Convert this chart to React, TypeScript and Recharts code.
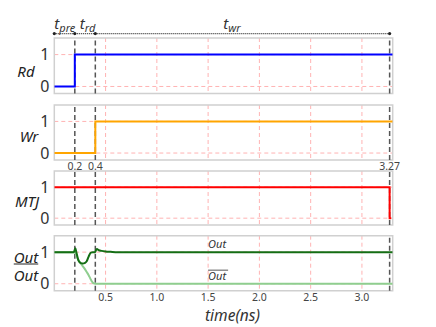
import React from "react";
import {
  LineChart,
  Line,
  XAxis,
  YAxis,
  CartesianGrid,
  ReferenceLine,
  ReferenceArea,
  ReferenceDot,
} from "recharts";

// time axis (ns)
const X_MAX = 3.3;
const gridX = [0.5, 1.0, 1.5, 2.0, 2.5, 3.0];
const markX = [0.2, 0.4, 3.27];
const levelY = [0, 1];
const Y_DOMAIN: [number, number] = [-0.22, 1.52];

// signals
const rdTime = [0, 0.2, 3.3];
const rdVal = [0, 1, 1];
const wrTime = [0, 0.4, 3.3];
const wrVal = [0, 1, 1];
const mtjTime = [0, 3.27, 3.285];
const mtjVal = [1, 0, 0];
const outTime = [0, 0.19, 0.205, 0.215, 0.235, 0.255, 0.277, 0.3, 0.316, 0.335, 0.355, 0.375, 0.395, 0.415, 0.435, 0.46, 0.5, 0.55, 0.62, 3.3];
const outVal = [1, 1, 1.12, 1.0, 0.74, 0.66, 0.64, 0.66, 0.71, 0.86, 0.98, 1.0, 1.0, 1.1, 1.06, 1.04, 1.02, 1.01, 1.0, 1.0];
const outbTime = [0, 0.2, 0.21, 0.225, 0.245, 0.267, 0.29, 0.316, 0.335, 0.35, 0.365, 0.38, 0.4, 3.3];
const outbVal = [1, 1, 0.95, 0.82, 0.7, 0.6, 0.5, 0.37, 0.27, 0.17, 0.08, 0.02, 0, 0];

// phase annotations
const phases = [
  { from: 0, to: 0.2, main: "t", sub: "pre", dx: 0 },
  { from: 0.2, to: 0.4, main: "t", sub: "rd", dx: 5 },
  { from: 0.4, to: 3.27, main: "t", sub: "wr", dx: 128 },
];
const PHASE_Y = 1.66;

const zip = (ts: number[], vs: number[]) => ts.map((t, i) => ({ t, v: vs[i] }));

const FONT = "'Noto Sans', 'Open Sans', sans-serif";
const W = 436;
const PLOT_LEFT = 54.3;
const PLOT_RIGHT = 392.7;
const Y_W = 30;

const tickY = { fontSize: 16, fill: "#333", fontFamily: FONT };
const tickX = { fontSize: 10.5, fill: "#444", fontFamily: FONT };

function PhaseLabel(props: any) {
  const { viewBox, main, sub, dx } = props;
  return (
    <text x={viewBox.x + dx} y={viewBox.y - 5} fontStyle="italic" fontSize={15} fill="#333" fontFamily={FONT}>
      {main}
      <tspan fontSize={11} dy={3}>{sub}</tspan>
    </text>
  );
}

function SigLabel(props: any) {
  const { viewBox, text, bar } = props;
  const x = viewBox.x;
  const y = viewBox.y;
  return (
    <g>
      <text x={x} y={y + 4} fontStyle="italic" fontSize={11} fill="#333" fontFamily={FONT}>
        {text}
      </text>
      {bar && <line x1={x} x2={x + 20} y1={y - 6} y2={y - 6} stroke="#555" strokeWidth={1} />}
    </g>
  );
}

function Panel({
  top,
  height,
  margin,
  children,
  xTicks,
  showX,
  xHeight,
  xLabel,
}: any) {
  return (
    <div style={{ position: "absolute", left: 0, top, width: W, height }}>
      <LineChart
        width={W}
        height={height}
        margin={{ left: PLOT_LEFT - Y_W, right: W - PLOT_RIGHT, ...margin }}
      >
        <CartesianGrid
          verticalValues={gridX}
          horizontalValues={levelY}
          stroke="#ffb3b3"
          strokeDasharray="4 3"
          strokeWidth={1}
        />
        <XAxis
          type="number"
          dataKey="t"
          domain={[0, X_MAX]}
          ticks={xTicks || gridX}
          allowDataOverflow
          hide={!showX}
          height={xHeight || 0}
          axisLine={false}
          tickLine={false}
          tickSize={0}
          tickMargin={3}
          tick={tickX}
          interval={0}
          tickFormatter={(v: number) => (xTicks ? String(v) : v.toFixed(1))}
          label={xLabel}
        />
        <YAxis
          type="number"
          domain={Y_DOMAIN}
          ticks={levelY}
          allowDataOverflow
          width={Y_W}
          axisLine={false}
          tickLine={false}
          tickSize={0}
          tickMargin={5}
          tick={tickY}
        />
        {markX.map((x) => (
          <ReferenceLine key={x} x={x} stroke="#555" strokeWidth={1.5} strokeDasharray="5 3" />
        ))}
        {children}
        <ReferenceArea
          x1={0}
          x2={X_MAX}
          y1={Y_DOMAIN[0]}
          y2={Y_DOMAIN[1]}
          fill="none"
          stroke="#d0d0d0"
          strokeWidth={1.5}
          ifOverflow="visible"
        />
      </LineChart>
    </div>
  );
}

const sideLabel: React.CSSProperties = {
  position: "absolute",
  transform: "translate(-50%, -50%)",
  fontStyle: "italic",
  fontSize: 15,
  color: "#222",
  fontFamily: FONT,
  lineHeight: 1,
  whiteSpace: "nowrap",
};

export default function App() {
  return (
    <div style={{ position: "absolute", left: 0, top: 0, width: W, height: 327, background: "#fff", fontFamily: FONT }}>
      <Panel top={0} height={100} margin={{ top: 38, bottom: 6.5 }}>
        {phases.map((p) => (
          <ReferenceLine
            key={p.sub}
            segment={[
              { x: p.from, y: PHASE_Y },
              { x: p.to, y: PHASE_Y },
            ]}
            stroke="#333"
            strokeWidth={1.2}
            strokeDasharray="1 1"
            ifOverflow="visible"
            label={{ content: <PhaseLabel main={p.main} sub={p.sub} dx={p.dx} /> }}
          />
        ))}
        {[0, 0.2, 0.4, 3.27].map((x) => (
          <ReferenceDot key={x} x={x} y={PHASE_Y} r={1.6} fill="#222" stroke="none" ifOverflow="visible" />
        ))}
        <Line data={zip(rdTime, rdVal)} dataKey="v" type="stepAfter" stroke="#0000ff" strokeWidth={2} dot={false} isAnimationActive={false} />
      </Panel>

      <Panel top={100} height={80} margin={{ top: 5, bottom: 0 }} showX xTicks={markX} xHeight={20}>
        <Line data={zip(wrTime, wrVal)} dataKey="v" type="stepAfter" stroke="#ffa500" strokeWidth={2} dot={false} isAnimationActive={false} />
      </Panel>

      <Panel top={166} height={65} margin={{ top: 5, bottom: 6 }}>
        <Line data={zip(mtjTime, mtjVal)} dataKey="v" type="stepAfter" stroke="#ff0000" strokeWidth={2} dot={false} isAnimationActive={false} />
      </Panel>

      <Panel
        top={230}
        height={97}
        margin={{ top: 5.7, bottom: 6.3 }}
        showX
        xHeight={30}
        xLabel={{ value: "time(ns)", position: "insideBottom", offset: 0, dx: 9, style: { fontStyle: "italic", fontSize: 15.5, fill: "#333", fontFamily: FONT } }}
      >
        <Line data={zip(outbTime, outbVal)} dataKey="v" type="monotone" stroke="#8fce8f" strokeWidth={2} dot={false} isAnimationActive={false} />
        <Line data={zip(outTime, outVal)} dataKey="v" type="monotone" stroke="#146e14" strokeWidth={2} dot={false} isAnimationActive={false} />
        <ReferenceDot x={1.5} y={1.25} r={0} fill="none" stroke="none" label={{ content: <SigLabel text="Out" /> }} />
        <ReferenceDot x={1.5} y={0.24} r={0} fill="none" stroke="none" label={{ content: <SigLabel text="Out" bar /> }} />
      </Panel>

      <div style={{ ...sideLabel, left: 26, top: 71 }}>Rd</div>
      <div style={{ ...sideLabel, left: 29, top: 136 }}>Wr</div>
      <div style={{ ...sideLabel, left: 27, top: 201 }}>MTJ</div>
      <div style={{ ...sideLabel, left: 26, top: 257 }}>Out</div>
      <div style={{ ...sideLabel, left: 26, top: 275, textDecoration: "overline" }}>Out</div>
    </div>
  );
}
